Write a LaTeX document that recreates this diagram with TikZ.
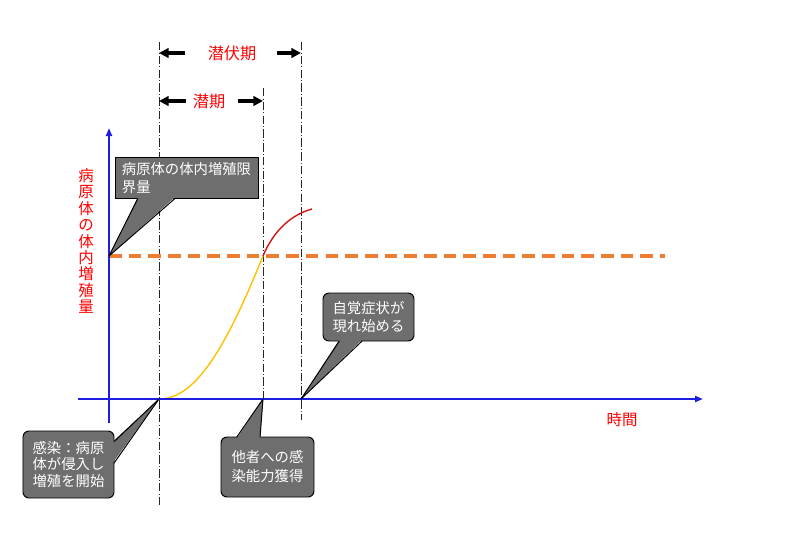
\documentclass[tikz,border=0pt]{standalone}
\usepackage{fontspec}
\setmainfont{Noto Sans CJK JP}
\usepackage{xcolor}
\usetikzlibrary{positioning, calc, arrows.meta}

\definecolor{axisblue}{RGB}{30,30,225}
\definecolor{limitorange}{RGB}{237,125,49}
\definecolor{riseyellow}{RGB}{255,192,0}
\definecolor{risered}{RGB}{210,20,20}
\definecolor{boxgray}{RGB}{110,110,110}

\begin{document}
\begin{tikzpicture}[x=0.25mm, y=-0.25mm, >=Triangle,
    axis/.style={axisblue, line width=1.4pt, -{Triangle[length=2mm,width=1.5mm]}},
    phase/.style={black!85, line width=0.5pt, dash pattern=on 6pt off 1.6pt on 0.6pt off 1.6pt},
    span/.style={line width=2.2pt, -{Triangle[length=2.4mm,width=2.4mm]}},
    redlabel/.style={text=red, font=\fontsize{11.5}{13}\selectfont, inner sep=0pt},
    callout/.style={fill=boxgray, draw=black, line width=0.7pt, outer sep=0pt,
        text=white, align=left, font=\fontsize{10.2}{13}\selectfont},
    pointerline/.style={draw=black, line width=0.7pt, line join=round}]

    % Picture frame
    \useasboundingbox (0,0) rectangle (799,553);

    % Key points on the time axis and the limit level
    \coordinate (O) at (109,399);
    \coordinate (tinf) at (159,399);
    \coordinate (tspr) at (263,399);
    \coordinate (tsym) at (301,399);
    \coordinate (L) at (109,256);
    \coordinate (Lend) at (665,256);
    \coordinate (cross) at (263,256);

    % Phase boundaries (dash-dot)
    \foreach \x/\a/\b in {159/42/505, 263/88/399, 301/42/420} {
        \draw[phase] (\x,\a) -- (\x,\b);
    }

    % Limit level
    \draw[limitorange, line width=2.2pt, dash pattern=on 9pt off 5pt] (L) -- (Lend);

    % Growth curve: below limit, then above limit
    \draw[riseyellow, line width=1pt] (tinf) .. controls (195,399) and (225,350) .. (cross);
    \draw[risered, line width=1pt] (cross) .. controls (273,232) and (290,215) .. (312,209);

    % Axes
    \draw[axis] (78,399) -- (703,399);
    \draw[axis] (109,423) -- (109,128);

    % Axis labels
    \node[redlabel, font=\fontsize{11}{13}\selectfont] (time) at (622,420) {時間};
    \node[redlabel, align=center, font=\fontsize{11}{11.7}\selectfont] (amount) at (86,241)
        {病\\原\\体\\の\\体\\内\\増\\殖\\量};

    % Period spans
    \node[redlabel] (latent) at (232,53) {潜伏期};
    \coordinate (latent-l) at (185,53);
    \coordinate (latent-r) at (277,53);
    \draw[span] (latent-l) -- (latent-l -| tinf);
    \draw[span] (latent-r) -- (latent-r -| tsym);

    \node[redlabel] (prepatent) at (209,101) {潜期};
    \coordinate (prepatent-l) at (186,101);
    \coordinate (prepatent-r) at (238,101);
    \draw[span] (prepatent-l) -- (prepatent-l -| tinf);
    \draw[span] (prepatent-r) -- (prepatent-r -| tspr);

    % Callout: limit
    \node[callout, minimum width=35.75mm, minimum height=10mm] (limit) at (186.5,178)
        {病原体の体内増殖限\\界量};
    \fill[boxgray] ($(limit.south west)!0.16!(limit.south east)+(0,-1.5)$) -- (L)
        -- ($(limit.south west)!0.42!(limit.south east)+(0,-1.5)$) -- cycle;
    \draw[pointerline] ($(limit.south west)!0.16!(limit.south east)$) -- (L)
        -- ($(limit.south west)!0.42!(limit.south east)$);

    % Callout: symptoms
    \node[callout, rounded corners=1.5mm, minimum width=22.75mm, minimum height=12mm] (symptom) at (368.5,317)
        {自覚症状が\\現れ始める};
    \fill[boxgray] ($(symptom.south west)!0.18!(symptom.south east)+(0,-1.5)$) -- (tsym)
        -- ($(symptom.south west)!0.43!(symptom.south east)+(0,-1.5)$) -- cycle;
    \draw[pointerline] ($(symptom.south west)!0.18!(symptom.south east)$) -- (tsym)
        -- ($(symptom.south west)!0.43!(symptom.south east)$);

    % Callout: infection
    \node[callout, rounded corners=1.5mm, minimum width=22.75mm, minimum height=16.75mm,
        font=\fontsize{10.2}{11.8}\selectfont] (infect) at (68.5,464.5)
        {感染：病原\\体が侵入し\\増殖を開始};
    \fill[boxgray] ($(infect.north east)!0.16!(infect.south east)+(-1.5,0)$) -- (tinf)
        -- ($(infect.north east)!0.48!(infect.south east)+(-1.5,0)$) -- cycle;
    \draw[pointerline] ($(infect.north east)!0.16!(infect.south east)$) -- (tinf)
        -- ($(infect.north east)!0.48!(infect.south east)$);

    % Callout: infectious to others
    \node[callout, rounded corners=1.5mm, minimum width=23.25mm, minimum height=15mm,
        font=\fontsize{10.2}{13.5}\selectfont] (spread) at (267.5,467)
        {他者への感\\染能力獲得};
    \fill[boxgray] ($(spread.north west)!0.17!(spread.north east)+(0,1.5)$) -- (tspr)
        -- ($(spread.north west)!0.42!(spread.north east)+(0,1.5)$) -- cycle;
    \draw[pointerline] ($(spread.north west)!0.17!(spread.north east)$) -- (tspr)
        -- ($(spread.north west)!0.42!(spread.north east)$);

\end{tikzpicture}
\end{document}
